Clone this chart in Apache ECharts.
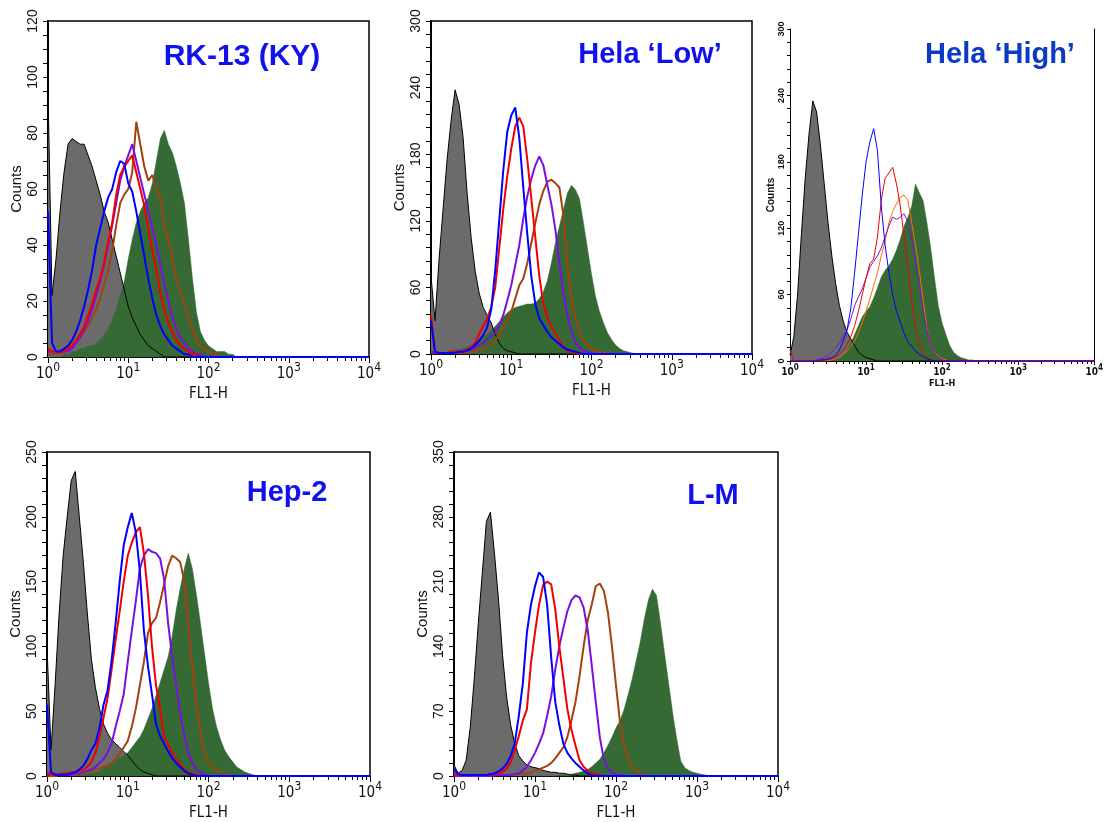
<!DOCTYPE html>
<html>
<head>
<meta charset="utf-8">
<title>FL1-H histograms</title>
<style>
  html, body { margin: 0; padding: 0; background: #fff; }
  #chart { width: 1106px; height: 822px; }
</style>
</head>
<body>
<div id="chart"></div>
<script src="https://cdn.jsdelivr.net/npm/echarts@6/dist/echarts.min.js"></script>
<script>
// counts per channel; channel i sits at FL1-H = 10^(i * STEP)
var STEP = 0.05;

// RK-13 (KY)
var rkGray   = [95,22,35,52,66,76,78,77,76,76,72,68,63,58,52,48,42,36,30,24,18,14,11,8,6,4,3,2,1,0];
var rkGreen  = [0,0,0,0,1,1,2,2,3,3,4,4,5,6,8,10,13,17,22,27,35,42,48,52,55,57,62,70,78,81,76,73,68,62,55,42,28,16,9,6,4,3,2,2,2,1,1,0];
var rkBrown  = [1,1,1,1,2,3,4,5,7,9,11,14,17,21,26,31,38,47,55,58,60,66,84,76,68,63,65,60,57,47,42,35,28,24,19,14,10,6,4,3,2,1,1,0];
var rkPurple = [2,2,2,2,2,2,3,5,7,10,13,17,22,27,33,40,47,55,63,68,72,76,70,64,58,52,46,40,33,26,20,14,10,7,5,3,2,1,1,0];
var rkRed    = [3,2,2,2,2,3,4,6,8,11,15,19,24,28,34,41,48,58,65,68,70,72,66,60,54,46,38,31,23,17,12,9,6,4,3,2,1,1,0];
var rkBlue   = [52,5,2,2,3,4,6,9,13,18,24,31,40,46,52,57,60,66,70,69,62,59,52,44,36,28,21,15,11,8,6,4,3,2,1,1,0];

// Hela 'Low'
var hlGray   = [70,30,85,130,175,210,238,225,195,145,105,75,55,42,35,28,18,10,5,3,2,1,0];
var hlGreen  = [0,0,0,0,2,3,4,4,5,6,8,10,12,15,18,21,25,29,33,37,40,42,43,44,45,45,46,50,56,66,82,100,115,130,145,152,148,140,118,95,72,52,38,28,19,13,8,5,3,2,1,0];
var hlBrown  = [1,1,1,1,1,1,1,1,1,2,2,3,4,5,6,8,12,18,24,30,38,50,62,68,82,100,118,135,147,155,157,154,150,125,80,50,32,20,12,8,5,3,2,1,1,0];
var hlPurple = [2,1,1,1,1,1,1,2,2,3,4,6,8,10,13,16,19,26,35,48,62,80,98,122,142,158,170,178,170,152,135,112,82,55,35,20,11,6,3,2,1,0];
var hlRed    = [35,2,1,1,1,2,2,2,3,4,6,10,18,25,32,42,60,95,130,160,185,205,213,205,175,140,105,70,45,33,25,19,12,6,3,2,1,0];
var hlBlue   = [30,2,1,1,1,1,1,2,2,3,5,8,12,17,24,40,75,120,165,200,215,222,195,150,108,70,45,32,26,20,15,12,9,6,4,3,2,1,0];

// Hela 'High'
var hhGray   = [5,22,60,115,165,205,235,225,195,160,125,95,70,50,36,26,20,14,8,5,3,2,1,0];
var hhGreen  = [0,0,0,0,0,0,0,0,0,0,0,1,2,3,5,10,16,24,32,40,45,49,57,66,76,82,86,92,100,110,122,130,140,160,152,145,125,102,75,50,34,24,14,8,5,3,2,1,1,0];
var hhOrange = [0,0,0,0,0,0,0,0,0,0,0,1,2,3,6,9,13,18,26,35,45,56,68,80,95,108,125,135,142,148,150,145,125,105,82,55,30,15,8,4,2,1,0];
var hhPurple = [0,0,0,0,0,0,0,1,2,3,5,8,12,16,22,28,38,50,58,65,75,85,90,95,102,112,122,130,128,130,133,125,110,88,68,45,28,15,7,3,1,0];
var hhRed    = [10,0,0,0,0,0,0,0,0,1,1,2,3,6,10,15,22,32,45,60,75,88,92,112,145,165,170,175,160,140,112,85,55,30,15,7,3,1,0];
var hhBlue   = [0,0,0,0,0,0,0,0,1,1,2,3,5,10,18,28,48,80,115,150,180,198,210,190,140,105,80,60,45,35,25,17,13,9,6,4,2,1,0];

// Hep-2
var hepGray   = [100,20,70,125,170,200,228,235,200,165,125,90,68,52,40,33,28,25,22,19,16,12,8,5,3,2,1,0];
var hepGreen  = [0,0,0,0,0,0,0,0,1,1,2,2,3,4,6,8,10,12,14,16,18,22,26,30,36,44,52,62,72,82,92,108,128,145,160,172,160,140,118,95,72,52,38,28,20,15,11,7,5,3,2,1,0];
var hepBrown  = [0,0,0,1,1,1,1,1,2,2,3,4,5,6,7,8,10,13,17,22,27,38,52,70,88,110,118,122,134,148,162,170,168,165,150,116,85,55,33,17,11,7,4,3,2,1,0];
var hepPurple = [1,1,1,1,1,1,1,2,2,3,4,5,7,10,13,18,25,38,50,63,88,112,135,160,170,175,173,172,168,152,118,92,70,48,32,18,10,5,3,1,0];
var hepRed    = [3,1,1,1,2,2,3,3,4,5,7,11,18,30,45,60,82,105,127,150,170,180,188,192,172,140,100,70,52,30,24,18,13,9,5,3,2,1,0];
var hepBlue   = [55,3,1,1,1,1,2,3,5,8,13,20,25,37,55,66,89,118,150,178,192,203,188,158,112,85,63,40,31,25,19,14,10,7,4,2,1,0];

// L-M
var lmGray   = [12,3,6,17,52,105,165,220,275,285,240,190,130,85,55,35,22,16,12,10,9,8,6,5,4,4,3,3,2,1,1,0];
var lmGreen  = [0,0,0,0,0,0,0,0,0,0,0,0,0,0,0,0,0,0,0,0,0,0,0,0,0,0,1,1,2,2,3,4,5,7,10,14,18,25,33,42,52,60,72,88,105,125,145,170,190,202,195,165,132,100,68,40,16,9,6,4,3,2,1,0];
var lmBrown  = [0,0,0,0,0,0,0,0,0,0,1,1,1,1,1,2,2,3,3,4,6,7,9,11,14,19,25,31,42,60,80,108,140,168,185,205,208,200,177,140,98,58,32,18,10,5,3,1,0];
var lmPurple = [0,0,0,0,0,0,0,0,0,0,1,1,1,1,1,2,3,6,10,17,25,35,46,65,86,115,140,160,178,190,195,193,182,158,120,80,42,18,8,4,2,1,0];
var lmRed    = [3,1,1,1,1,1,1,1,1,2,2,3,4,8,15,28,43,60,72,122,155,185,206,210,207,180,140,106,72,50,33,17,10,6,3,2,1,0];
var lmBlue   = [8,2,1,1,1,1,1,1,1,2,3,5,8,13,22,35,65,100,155,185,205,220,215,185,128,80,55,35,25,19,14,10,6,3,1,0];

var xMinorTicks = [];
[1, 10, 100, 1000].forEach(function (d) {
  for (var k = 2; k <= 9; k++) xMinorTicks.push(k * d);
});

function toPoints(counts) {
  var pts = counts.map(function (c, i) { return [Math.pow(10, i * STEP), c]; });
  pts.push([10000, 0]);
  return pts;
}

var panels = [
  { title: 'RK-13 (KY)', tx: 242, ty: 57, fs: 30, box: [48, 21, 321, 336], max: 120, interval: 20, minor: 4,
    data: [rkGray, rkGreen, rkBrown, rkPurple, rkRed, rkBlue] },
  { title: 'Hela \u2018Low\u2019', tx: 650, ty: 55, fs: 29, box: [431, 21, 321, 333], max: 300, interval: 60, minor: 5,
    data: [hlGray, hlGreen, hlBrown, hlPurple, hlRed, hlBlue] },
  { title: 'Hela \u2018High\u2019', tx: 1000, ty: 55, fs: 29, box: [790, 29, 311, 332], max: 300, interval: 60, minor: 5,
    data: [hhGray, hhGreen, hhOrange, hhPurple, hhRed, hhBlue], small: true },
  { title: 'Hep-2', tx: 287, ty: 493, fs: 29, box: [47, 452, 323, 328], max: 250, interval: 50, minor: 5,
    data: [hepGray, hepGreen, hepBrown, hepPurple, hepRed, hepBlue] },
  { title: 'L-M', tx: 713, ty: 496, fs: 29, box: [454, 452, 324, 327], max: 350, interval: 70, minor: 5,
    data: [lmGray, lmGreen, lmBrown, lmPurple, lmRed, lmBlue] }
];

var NARROW = '"Liberation Sans Narrow", "DejaVu Sans Condensed", "Liberation Sans", sans-serif';
var SANS = '"Liberation Sans", Arial, sans-serif';

var grids = [], xAxes = [], yAxes = [], series = [], texts = [];

panels.forEach(function (p, n) {
  var s = !!p.small;
  grids.push({
    left: p.box[0], top: p.box[1], width: p.box[2], height: p.box[3],
    show: !s, borderColor: '#000', borderWidth: 1.5, backgroundColor: 'transparent'
  });

  xAxes.push({
    gridIndex: n, type: 'log', logBase: 10, min: 1, max: 10000,
    axisLine: { show: true, lineStyle: { color: '#000', width: s ? 1 : 1.5 } },
    axisTick: { show: true, length: s ? 4 : 6, lineStyle: { color: '#000', width: 1 } },
    splitLine: { show: false },
    axisLabel: {
      margin: s ? 3 : 5,
      formatter: function (v) {
        var e = Math.round(Math.log(v) / Math.LN10);
        return '{b|10}{e|' + e + '}';
      },
      rich: {
        b: { fontFamily: NARROW, fontSize: s ? 10 : 15, fontWeight: s ? 'bold' : 'normal', color: '#111',
             lineHeight: s ? 13 : 20, verticalAlign: 'bottom' },
        e: { fontFamily: NARROW, fontSize: s ? 8 : 12, fontWeight: s ? 'bold' : 'normal', color: '#111',
             lineHeight: s ? 8 : 12, verticalAlign: 'top' }
      }
    },
    name: 'FL1-H', nameLocation: 'middle', nameGap: s ? 18 : 30,
    nameTextStyle: { fontFamily: NARROW, fontSize: s ? 9 : 15, fontWeight: s ? 'bold' : 'normal', color: '#111' }
  });
  // minor decade ticks 2..9
  xAxes.push({
    gridIndex: n, type: 'log', logBase: 10, min: 1, max: 10000, position: 'bottom',
    axisLine: { show: false },
    axisTick: { show: true, length: s ? 3 : 4, customValues: xMinorTicks, lineStyle: { color: '#000', width: 1 } },
    axisLabel: { show: false },
    splitLine: { show: false }
  });

  yAxes.push({
    gridIndex: n, type: 'value', min: 0, max: p.max, interval: p.interval,
    axisLine: { show: true, lineStyle: { color: '#000', width: s ? 1 : 2 } },
    axisTick: { show: true, length: s ? 3 : 5, lineStyle: { color: '#000' } },
    minorTick: { show: true, splitNumber: p.minor, length: s ? 3 : 5, lineStyle: { color: '#000' } },
    splitLine: { show: false },
    axisLabel: { rotate: 90, margin: s ? 4 : 8, fontFamily: SANS, fontSize: s ? 9 : 14,
                 fontWeight: s ? 'bold' : 'normal', color: '#111' },
    name: 'Counts', nameLocation: 'middle', nameGap: s ? 14 : 24,
    nameTextStyle: { fontFamily: SANS, fontSize: s ? 10 : 15, fontWeight: s ? 'bold' : 'normal', color: '#111' }
  });

  var lw = s ? 1 : 2;
  var lineColors = ['#000', '#356a35', s ? '#ff6a00' : '#a3420e', '#7a10e0', '#f00000', '#0000ff'];
  p.data.forEach(function (arr, k) {
    var item = {
      type: 'line', xAxisIndex: 2 * n, yAxisIndex: n, data: toPoints(arr),
      symbol: 'none', showSymbol: false, silent: true, animation: false,
      lineStyle: { color: lineColors[k], width: lw }
    };
    if (k === 0) {
      item.lineStyle = { color: '#000', width: 1 };
      item.areaStyle = { color: '#6b6b6b', opacity: 1 };
    } else if (k === 1) {
      item.lineStyle = { color: '#356a35', width: 0.5 };
      item.areaStyle = { color: '#356a35', opacity: 1 };
    }
    series.push(item);
  });

  texts.push({
    type: 'text', x: p.tx, y: p.ty, z: 100,
    style: { text: p.title, fill: s ? '#0b3bc4' : '#1111ee', font: 'bold ' + p.fs + 'px ' + SANS,
             align: 'center', verticalAlign: 'middle' }
  });
});

// Hela 'High' has only a right frame line, no top line
yAxes.push({
  gridIndex: 2, type: 'value', min: 0, max: 300, position: 'right',
  axisLine: { show: true, lineStyle: { color: '#000', width: 1 } },
  axisTick: { show: false }, axisLabel: { show: false }, splitLine: { show: false }
});

var chart = echarts.init(document.getElementById('chart'));
chart.setOption({
  backgroundColor: '#fff',
  animation: false,
  grid: grids,
  xAxis: xAxes,
  yAxis: yAxes,
  series: series,
  graphic: texts
});
</script>
</body>
</html>
